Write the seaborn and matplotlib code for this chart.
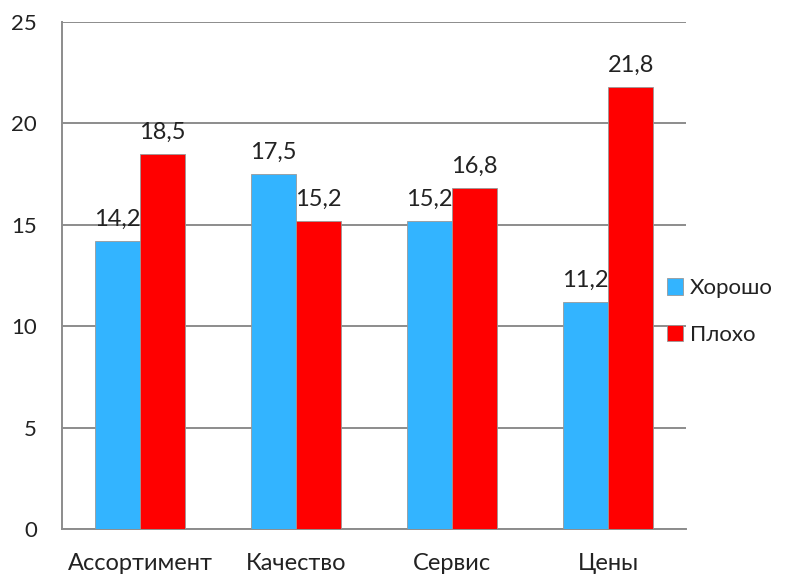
import pandas as pd
import numpy as np
import matplotlib
matplotlib.use('Agg')
import matplotlib.pyplot as plt
import seaborn as sns

categories = ['Ассортимент', 'Качество', 'Сервис', 'Цены']
good = [14.2, 17.5, 15.2, 11.2]
bad = [18.5, 15.2, 16.8, 21.8]
series = ['Хорошо', 'Плохо']
colors = ['#33B4FF', '#FF0000']

df = pd.DataFrame({
    'cat': categories * 2,
    'val': good + bad,
    'grp': [series[0]] * 4 + [series[1]] * 4,
})

sns.set_style('white')
plt.rcParams['font.family'] = ['Lato', 'DejaVu Sans']

fig = plt.figure(figsize=(7.88, 5.79), dpi=100)
ax = fig.add_axes([0.0787, 0.0864, 0.792, 0.876])
sns.barplot(data=df, x='cat', y='val', hue='grp', palette=colors, width=0.58,
            saturation=1, edgecolor='#999999', linewidth=0.6, ax=ax, zorder=3)

for c in ax.containers:
    ax.bar_label(c, labels=[f'{v:.1f}'.replace('.', ',') for v in c.datavalues],
                 padding=8, fontsize=17, color='#222222')

ax.set_ylim(0, 25)
ax.set_yticks(range(0, 26, 5))
ax.set_xlim(-0.5, 3.5)
ax.grid(axis='y', color='#8c8c8c', linewidth=1.4, zorder=0)
ax.set_xlabel('')
ax.set_ylabel('')
for s in ['top', 'right']:
    ax.spines[s].set_visible(False)
for s in ['left', 'bottom']:
    ax.spines[s].set_color('#8c8c8c')
    ax.spines[s].set_linewidth(1.4)
ax.tick_params(axis='y', length=8, color='#8c8c8c', width=1.4, labelsize=16, pad=10,
               labelcolor='#222222')
ax.tick_params(axis='x', which='major', length=0, labelsize=17, pad=17, labelcolor='#222222')
ax.set_xticks(np.arange(-0.5, 4, 1), minor=True)
ax.tick_params(axis='x', which='minor', length=9, color='#8c8c8c', width=1.4)

leg = ax.legend(loc='center left', bbox_to_anchor=(0.846, 0.462), bbox_transform=fig.transFigure,
                frameon=False, fontsize=16, handlelength=0.75, handleheight=0.75,
                handletextpad=0.3, labelspacing=1.2, labelcolor='#222222',
                borderpad=0, borderaxespad=0)

plt.savefig('out.png', dpi=100)
